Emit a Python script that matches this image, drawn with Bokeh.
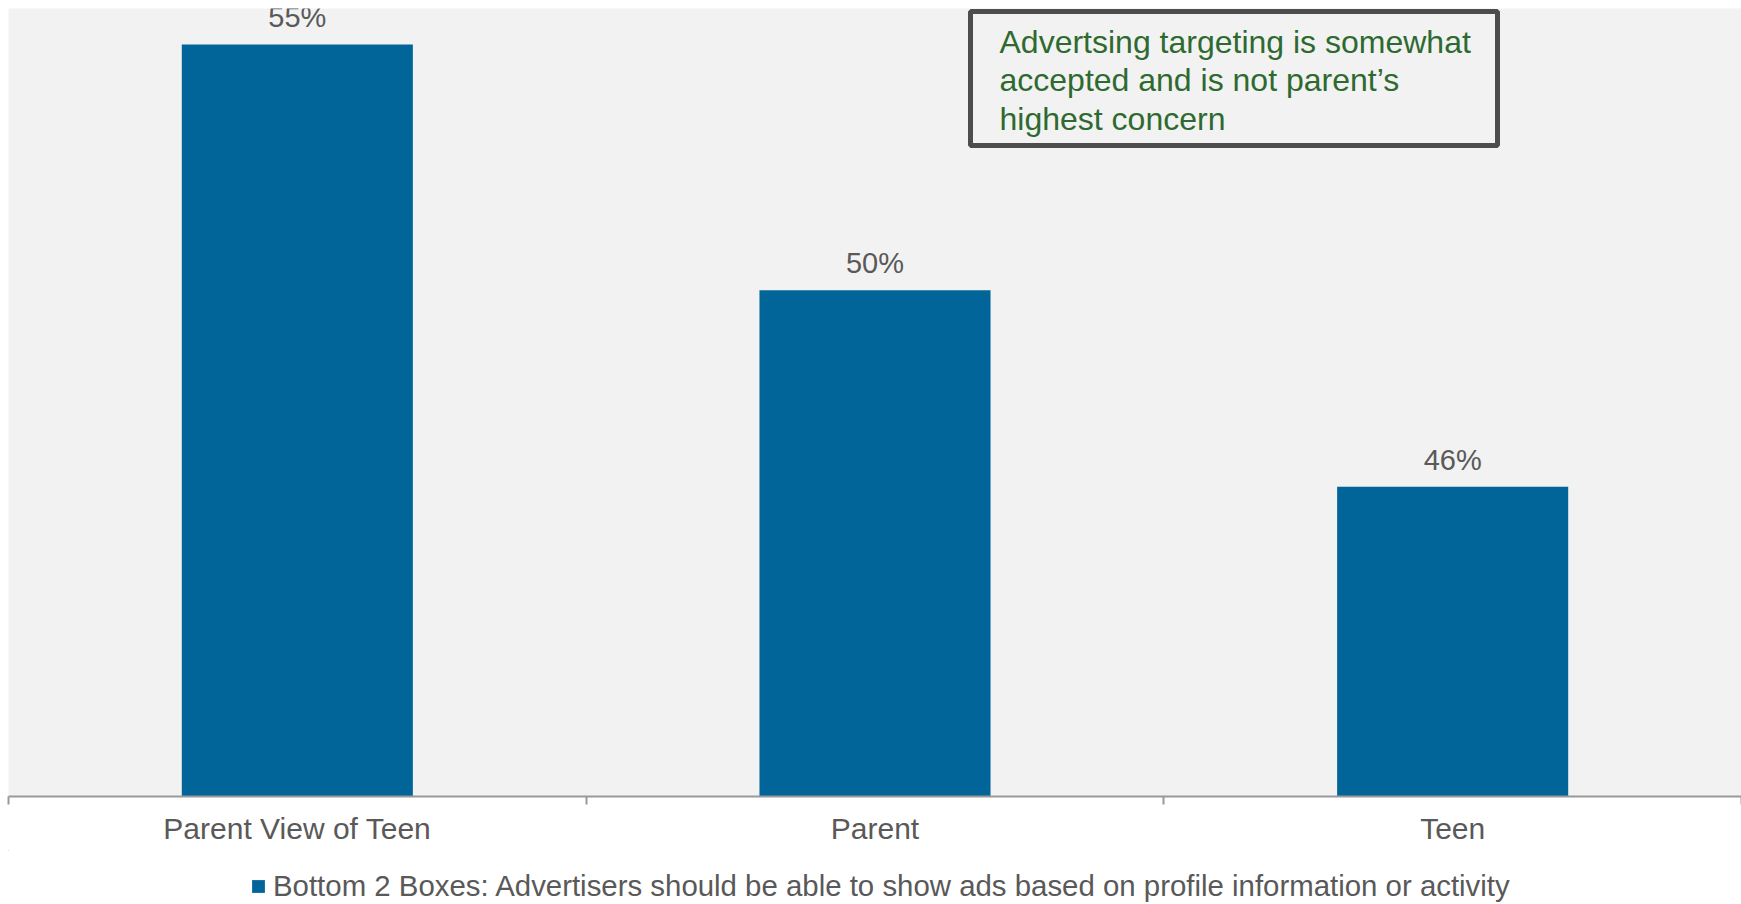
from bokeh.plotting import figure
from bokeh.layouts import column
from bokeh.models import (Range1d, FixedTicker, ColumnDataSource, LabelSet, Label,
                          BoxAnnotation, Legend, LegendItem)
from bokeh.core.properties import value
from bokeh.embed import file_html
from bokeh.resources import INLINE

categories = ["Parent View of Teen", "Parent", "Teen"]
values = [55, 50, 46]
value_labels = ["55%", "50%", "46%"]
series_name = "Bottom 2 Boxes: Advertisers should be able to show ads based on profile information or activity"
note_lines = ["Advertsing targeting is somewhat", "accepted and is not parent\u2019s", "highest concern"]

FONT = "Liberation Sans"
BAR = "#026599"
TXT = "#595959"

positions = [i + 0.5 for i in range(len(categories))]
src = ColumnDataSource(dict(x=positions, top=values, lab=value_labels))

Y0, Y1 = 39.70, 55.73
LEFT, TOP = 8, 8
W = 1741
FW = W - LEFT
FH = 788
BOTTOM = 54
H1 = TOP + FH + BOTTOM
H2 = 904 - H1

p = figure(width=W, height=H1, x_range=Range1d(0, len(categories)),
           y_range=Range1d(Y0, Y1), output_backend="svg", toolbar_location=None,
           y_axis_location=None, min_border_left=LEFT, min_border_right=0,
           min_border_top=TOP, min_border_bottom=BOTTOM)
p.background_fill_color = "#F2F2F2"
p.border_fill_color = "white"
p.outline_line_color = None
p.xgrid.visible = False
p.ygrid.visible = False

r = p.vbar(x="x", top="top", bottom=Y0, width=0.4, source=src,
           fill_color=BAR, line_color=None)

ax = p.xaxis[0]
ax.ticker = FixedTicker(ticks=positions, minor_ticks=list(range(len(categories) + 1)))
ax.major_label_overrides = {pos: c for pos, c in zip(positions, categories)}
ax.major_tick_line_color = None
ax.major_tick_out = 8
ax.major_tick_in = 0
ax.minor_tick_out = 8
ax.minor_tick_in = 0
ax.minor_tick_line_color = "#999999"
ax.minor_tick_line_width = 2
ax.axis_line_color = "#999999"
ax.axis_line_width = 2
ax.major_label_text_font = FONT
ax.major_label_text_font_size = "30px"
ax.major_label_text_color = TXT
ax.major_label_standoff = 7

labels = LabelSet(x="x", y="top", text="lab", source=src, y_offset=27,
                  text_align="center", text_baseline="middle",
                  text_font_size=value("29px"), text_color=value(TXT), text_font=value(FONT))
p.add_layout(labels)

def X(px):
    return (px - LEFT) / FW * len(categories)

def Y(py):
    return Y1 - (py - TOP) * (Y1 - Y0) / FH

box = BoxAnnotation(left=X(970), right=X(1497), top=Y(11), bottom=Y(145),
                    fill_color="#F2F2F2", fill_alpha=1.0,
                    line_color="#4D4D4D", line_width=5, line_alpha=1.0)
p.add_layout(box)
for i, line in enumerate(note_lines):
    p.add_layout(Label(x=X(999), y=Y(41 + i * 38.5), text=line, text_baseline="middle",
                       text_font=FONT, text_font_size="32px", text_color="#2E6A30"))

# legend strip below the chart (its bars lie outside this strip's ranges)
p2 = figure(width=W, height=H2, x_range=Range1d(10, 11), y_range=Range1d(0, 1),
            output_backend="svg", toolbar_location=None,
            x_axis_location=None, y_axis_location=None, min_border=0)
p2.outline_line_color = None
p2.xgrid.visible = False
p2.ygrid.visible = False
p2.background_fill_color = "white"
p2.border_fill_color = "white"
r2 = p2.vbar(x="x", top="top", bottom=Y0, width=0.4, source=src,
             fill_color=BAR, line_color=None)

legend = Legend(items=[LegendItem(label=series_name, renderers=[r2], index=0)],
                location=(242, H2 - (887 - H1) - 16), orientation="horizontal",
                glyph_width=16, glyph_height=16, label_standoff=7, label_height=32,
                label_text_font=FONT, label_text_font_size="29.4px", label_text_color=TXT,
                border_line_color=None, background_fill_alpha=0,
                padding=0, margin=0, spacing=0)
p2.add_layout(legend)

layout = column(p, p2, spacing=0)
open("out.html", "w").write(file_html(layout, INLINE))
